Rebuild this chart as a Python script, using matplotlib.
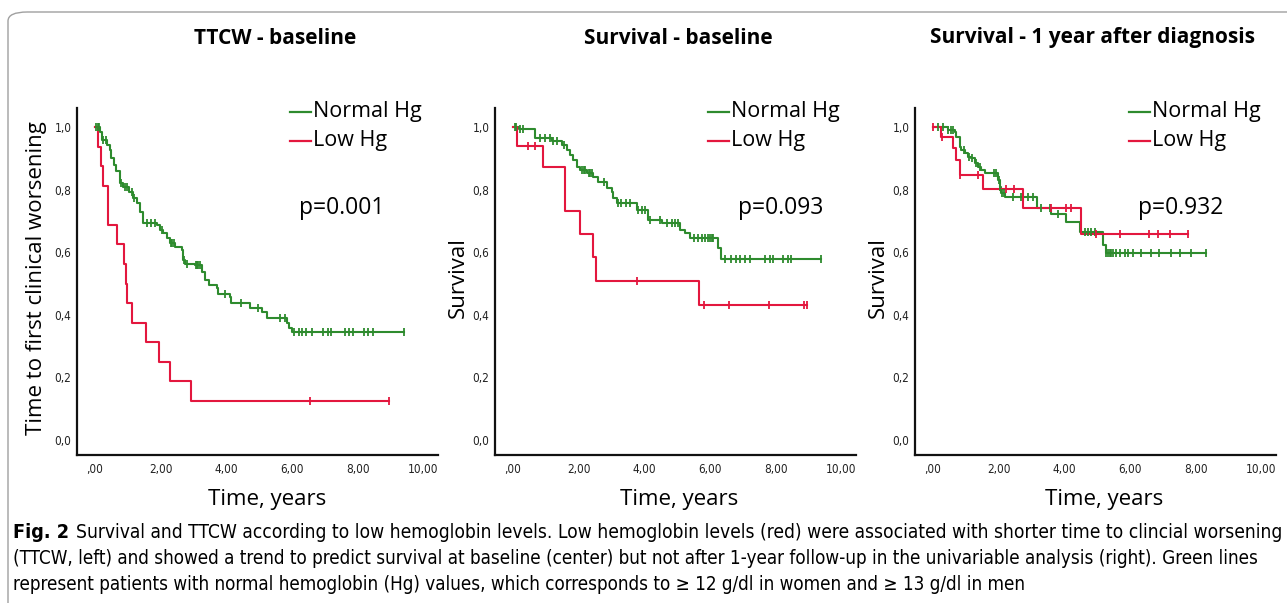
import numpy as np
import matplotlib
matplotlib.use('Agg')
import matplotlib.pyplot as plt
from matplotlib.lines import Line2D
from matplotlib.patches import FancyBboxPatch
from matplotlib import font_manager as fm

# -- data -- #

# TTCW - baseline
ttcw_norm_t = [0.15, 0.2, 0.36, 0.46, 0.5, 0.59, 0.64, 0.76, 0.86, 1.02, 1.15, 1.27, 1.37, 1.47,
               1.88, 1.98, 2.08, 2.2, 2.29, 2.44, 2.64, 2.69, 2.74, 3.05, 3.25, 3.35, 3.46, 3.71,
               3.74, 4.12, 4.14, 4.73, 5.08, 5.23, 5.84, 5.91, 6.0]
ttcw_norm_s = [0.985, 0.958, 0.942, 0.927, 0.9, 0.879, 0.859, 0.82, 0.809, 0.793, 0.772, 0.756, 0.73, 0.695,
               0.687, 0.671, 0.66, 0.645, 0.628, 0.618, 0.607, 0.575, 0.564, 0.559, 0.538, 0.511, 0.495, 0.485,
               0.465, 0.458, 0.437, 0.421, 0.41, 0.389, 0.373, 0.357, 0.344]
ttcw_norm_cens = [0.03, 0.08, 0.13, 0.25, 0.32, 0.8, 0.9, 0.98, 1.12, 1.18, 1.58, 1.7, 1.83, 2.05,
                  2.32, 2.35, 2.4, 2.72, 2.79, 3.07, 3.1, 3.15, 3.2, 3.97, 4.45, 4.98, 5.65, 5.8,
                  6.05, 6.2, 6.32, 6.43, 6.6, 6.96, 7.09, 7.2, 7.62, 7.74, 7.85, 8.21, 8.31, 8.46, 9.4]
ttcw_low_t = [0.1, 0.17, 0.23, 0.39, 0.68, 0.88, 0.94, 0.97, 1.14, 1.55, 1.95, 2.29, 2.92]
ttcw_low_s = [0.9375, 0.875, 0.8125, 0.6875, 0.625, 0.5625, 0.5, 0.4375, 0.375, 0.3125, 0.25, 0.1875, 0.125]
ttcw_low_cens = [6.56, 8.97]

# Survival - baseline
surv_norm_t = [0.17, 0.68, 1.2, 1.49, 1.64, 1.74, 1.84, 1.95, 2.05, 2.25, 2.45, 2.6, 2.86, 3.01,
               3.06, 3.16, 3.77, 4.12, 4.53, 5.09, 5.24, 5.39, 6.25, 6.35]
surv_norm_s = [0.993, 0.964, 0.955, 0.943, 0.927, 0.911, 0.895, 0.873, 0.863, 0.852, 0.841, 0.825, 0.804, 0.793,
               0.772, 0.756, 0.735, 0.703, 0.692, 0.671, 0.66, 0.644, 0.612, 0.578]
surv_norm_cens = [0.05, 0.1, 0.2, 0.3, 0.83, 0.98, 1.13, 1.23, 1.33, 1.54, 2.1, 2.15, 2.2, 2.3, 2.35, 2.4,
                  2.78, 3.2, 3.3, 3.45, 3.55, 3.82, 3.92, 4.02, 4.18, 4.48, 4.68, 4.83, 4.93, 5.03,
                  5.5, 5.65, 5.75, 5.85, 5.95, 6.0, 6.05, 6.1, 6.45, 6.65, 6.8, 6.91, 7.06, 7.21,
                  7.67, 7.82, 7.92, 8.22, 8.38, 8.48, 9.39]
surv_low_t = [0.12, 0.9, 1.57, 1.58, 2.03, 2.45, 2.52, 5.66]
surv_low_s = [0.941, 0.871, 0.80, 0.733, 0.657, 0.586, 0.509, 0.431]
surv_low_cens = [0.45, 0.68, 3.77, 5.82, 6.58, 7.79, 8.86, 8.96]

# Survival - 1 year after diagnosis
year_norm_t = [0.45, 0.66, 0.71, 0.81, 0.86, 0.96, 1.07, 1.17, 1.27, 1.37, 1.47, 1.57, 1.98, 2.03,
               2.08, 2.18, 3.18, 3.6, 4.06, 4.47, 5.18, 5.26]
year_norm_s = [0.99, 0.985, 0.969, 0.937, 0.927, 0.916, 0.905, 0.9, 0.884, 0.873, 0.863, 0.852, 0.831, 0.809,
               0.79, 0.777, 0.74, 0.722, 0.696, 0.664, 0.623, 0.598]
year_norm_cens = [0.15, 0.3, 0.45, 0.55, 0.6, 0.95, 1.1, 1.2, 1.3, 1.42, 1.85, 1.92, 2.0, 2.05, 2.1, 2.15,
                  2.44, 2.69, 2.89, 3.05, 3.3, 3.55, 3.81, 4.62, 4.72, 4.82, 4.92,
                  5.28, 5.33, 5.38, 5.43, 5.48, 5.58, 5.69, 5.84, 5.94, 6.09, 6.35, 6.65, 6.9,
                  7.26, 7.51, 7.87, 8.32]
year_low_t = [0.25, 0.61, 0.69, 0.81, 1.52, 2.74, 4.52]
year_low_s = [0.969, 0.932, 0.895, 0.847, 0.802, 0.74, 0.658]
year_low_cens = [0.0, 0.27, 0.83, 1.37, 2.23, 2.46, 3.6, 4.06, 4.21, 4.97, 5.69, 6.58, 6.85, 7.23, 7.77]

titles = ['TTCW - baseline', 'Survival - baseline', 'Survival - 1 year after diagnosis']
ylabels = ['Time to first clinical worsening', 'Survival', 'Survival']
pvalues = ['p=0.001', 'p=0.093', 'p=0.932']
legend_labels = ['Normal Hg', 'Low Hg']
xticks = [0, 2, 4, 6, 8, 10]
xticklabels = [',00', '2,00', '4,00', '6,00', '8,00', '10,00']
yticks = [0, 0.2, 0.4, 0.6, 0.8, 1.0]
yticklabels = ['0,0', '0,2', '0,4', '0,6', '0,8', '1,0']
caption_lines = [
    'Survival and TTCW according to low hemoglobin levels. Low hemoglobin levels (red) were associated '
    'with shorter time to clincial worsening',
    '(TTCW, left) and showed a trend to predict survival at baseline (center) but not after 1-year '
    'follow-up in the univariable analysis (right). Green lines',
    'represent patients with normal hemoglobin (Hg) values, which corresponds to \u2265 12 g/dl in women '
    'and \u2265 13 g/dl in men',
]

panels = [
    (ttcw_norm_t, ttcw_norm_s, ttcw_norm_cens, ttcw_low_t, ttcw_low_s, ttcw_low_cens),
    (surv_norm_t, surv_norm_s, surv_norm_cens, surv_low_t, surv_low_s, surv_low_cens),
    (year_norm_t, year_norm_s, year_norm_cens, year_low_t, year_low_s, year_low_cens),
]

GREEN = '#2e8b2e'
RED = '#e3173e'
W, H = 1287, 603

def fx(x):
    return x / W

def fy(y):
    return 1 - y / H

def km_at(times, levels, t):
    i = np.searchsorted(times, t, side='right')
    return 1.0 if i == 0 else levels[i - 1]

def draw_curve(ax, times, levels, cens, color):
    end = max(cens[-1], times[-1])
    tt = [0] + list(times) + [end]
    ss = [1.0] + list(levels) + [levels[-1]]
    ax.step(tt, ss, where='post', color=color, lw=1.5, zorder=3)
    cy = [km_at(times, levels, c) for c in cens]
    ax.plot(cens, cy, ls='none', marker='|', ms=5.5, mew=1.3, color=color, zorder=4)

# look for an upright narrow font for the caption / ticks
def narrow_font(bold=False):
    for f in fm.fontManager.ttflist:
        name = f.name.lower()
        fname = f.fname.lower()
        narrow = ('narrow' in name or 'condensed' in name or 'condensed' in fname
                  or str(f.stretch).lower() in ('condensed', 'semi-condensed', 'extra-condensed'))
        upright = f.style == 'normal' and 'oblique' not in fname and 'italic' not in fname
        is_bold = f.weight in ('bold', 700, 'semibold', 600)
        if narrow and upright and is_bold == bold:
            return fm.FontProperties(fname=f.fname)
    return fm.FontProperties(family='DejaVu Sans', weight='bold' if bold else 'normal')

# ------------------------------ #

fig = plt.figure(figsize=(W / 100, H / 100), dpi=100)
fig.patch.set_facecolor('white')

# rounded frame around the figure
frame = FancyBboxPatch((fx(8), fy(640)), fx(1320), fy(12) - fy(640),
                       boxstyle='round,pad=0,rounding_size=0.015',
                       transform=fig.transFigure, fc='none', ec='#a0a0a0', lw=1.0)
fig.add_artist(frame)

axes_left = [77, 495, 915]
title_x = [275, 678, 1092]
ylabel_x = [37, 458, 878]
xlabel_x = [267, 679, 1104]
legend_x = [290, 708, 1129]
p_x = [342, 781, 1181]

tick_fp = narrow_font()

for k in range(3):
    ax = fig.add_axes([fx(axes_left[k]), fy(455), fx(361), fy(108) - fy(455)])
    nt, ns, nc, lt, ls_, lc = panels[k]
    draw_curve(ax, nt, ns, nc, GREEN)
    draw_curve(ax, lt, ls_, lc, RED)

    ax.set_xlim(-0.55, 10.45)
    ax.set_ylim(-0.048, 1.061)
    for s in ['top', 'right']:
        ax.spines[s].set_visible(False)
    for s in ['left', 'bottom']:
        ax.spines[s].set_linewidth(1.6)
        ax.spines[s].set_color('#111111')
    ax.set_xticks(xticks)
    ax.set_xticklabels(xticklabels, fontproperties=tick_fp, fontsize=8.5, color='#222222')
    ax.set_yticks(yticks)
    ax.set_yticklabels(yticklabels, fontproperties=tick_fp, fontsize=8.5, color='#222222')
    ax.tick_params(length=0, pad=6)
    ax.tick_params(axis='y', pad=4)

    fig.text(fx(title_x[k]), fy(38), titles[k], ha='center', va='center',
             family='Open Sans', weight='bold', fontsize=15)
    fig.text(fx(ylabel_x[k]), fy(278), ylabels[k], ha='center', va='center', rotation=90,
             family='Open Sans', fontsize=16)
    fig.text(fx(xlabel_x[k]), fy(499), 'Time, years', ha='center', va='center',
             family='Open Sans', fontsize=16)
    fig.text(fx(p_x[k]), fy(208), pvalues[k], ha='center', va='center',
             family='Open Sans', fontsize=16.5)

    for j, (lab, col) in enumerate(zip(legend_labels, [GREEN, RED])):
        yy = 112 + 29 * j
        fig.add_artist(Line2D([fx(legend_x[k]), fx(legend_x[k] + 21)], [fy(yy), fy(yy)],
                              color=col, lw=1.6, transform=fig.transFigure))
        fig.text(fx(legend_x[k] + 23), fy(yy), lab, ha='left', va='center',
                 family='Open Sans', fontsize=15.5)

# caption: fit the font sizes so the lines span the same widths as in the picture
cap_fp = narrow_font()
cap_bold = narrow_font(bold=True)
renderer = fig.canvas.get_renderer()
line2 = fig.text(fx(13), fy(558), caption_lines[1], ha='left', va='center',
                 fontproperties=cap_fp, fontsize=13)
w2 = line2.get_window_extent(renderer).width
size = min(14, 13 * 1249 / w2)
line2.set_fontsize(size)

figlab = fig.text(fx(13), fy(532), 'Fig. 2', ha='left', va='center',
                  fontproperties=cap_bold, fontsize=size * 1.05)
wf = figlab.get_window_extent(renderer).width
start1 = 13 + wf + 7
line1 = fig.text(fx(start1), fy(532), caption_lines[0], ha='left', va='center',
                 fontproperties=cap_fp, fontsize=size)
w1 = line1.get_window_extent(renderer).width
line1.set_fontsize(min(size * 1.03, size * (1282 - start1) / w1))
fig.text(fx(13), fy(584), caption_lines[2], ha='left', va='center',
         fontproperties=cap_fp, fontsize=size)

plt.savefig('out.png', dpi=100)
